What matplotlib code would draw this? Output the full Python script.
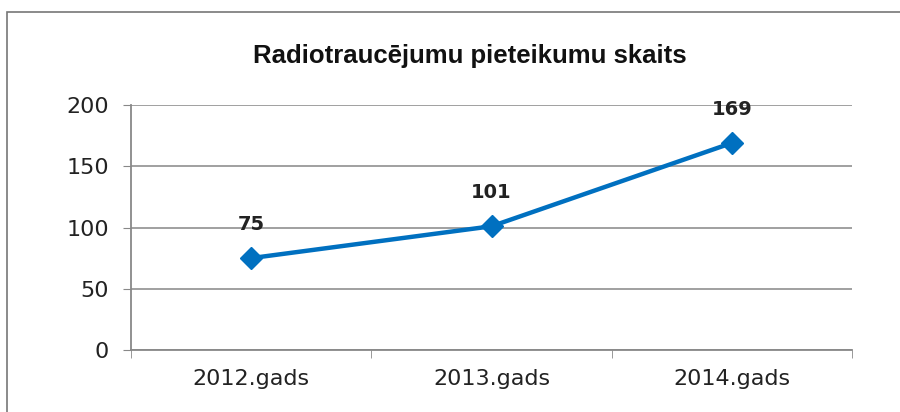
import matplotlib
matplotlib.use("Agg")
import matplotlib.pyplot as plt
from matplotlib.patches import Rectangle

categories = ["2012.gads", "2013.gads", "2014.gads"]
values = [75, 101, 169]
yticks = [0, 50, 100, 150, 200]
title = "Radiotraucējumu pieteikumu skaits"

fig = plt.figure(figsize=(9, 4.12), dpi=100)
fig.patches.append(Rectangle((7/900, -0.1), 1.2, 1 - 12/412 + 0.1, transform=fig.transFigure,
                             fill=False, edgecolor="#777777", linewidth=1.2))
ax = fig.add_axes([131/900, 1 - 350/412, (852 - 131)/900, (350 - 105)/412])

x = list(range(len(categories)))
ax.plot(x, values, color="#0070C0", linewidth=3.2, marker="D", markersize=11, zorder=3)
for xi, v in zip(x, values):
    ax.annotate(str(v), (xi, v), xytext=(0, 17.5), textcoords="offset points",
                ha="center", va="bottom", fontsize=14, fontweight="bold",
                family="DejaVu Sans", color="#222222")

ax.set_xlim(-0.5, len(categories) - 0.5)
ax.set_ylim(0, 200)
ax.set_yticks(yticks)
ax.set_yticklabels([str(t) for t in yticks], fontsize=16, family="DejaVu Sans", color="#222222")
ax.set_xticks(x)
ax.set_xticklabels(categories, fontsize=16, family="DejaVu Sans", color="#222222")
ax.tick_params(axis="x", length=0, pad=14)
ax.set_xticks([-0.5, 0.5, 1.5, 2.5], minor=True)
ax.tick_params(axis="x", which="minor", length=6, color="#888888", direction="out")
ax.tick_params(axis="y", length=6, color="#888888", direction="out", pad=10)
ax.grid(axis="y", color="#999999", linewidth=1.3)
for s in ["top", "right"]:
    ax.spines[s].set_visible(False)
for s in ["left", "bottom"]:
    ax.spines[s].set_color("#888888")
    ax.spines[s].set_linewidth(1.3)

fig.text(470/900, 1 - 56/412, title, ha="center", va="center", fontsize=18.5,
         family="Liberation Sans", fontweight="bold", color="#111111")

fig.savefig("out.png", dpi=100)
